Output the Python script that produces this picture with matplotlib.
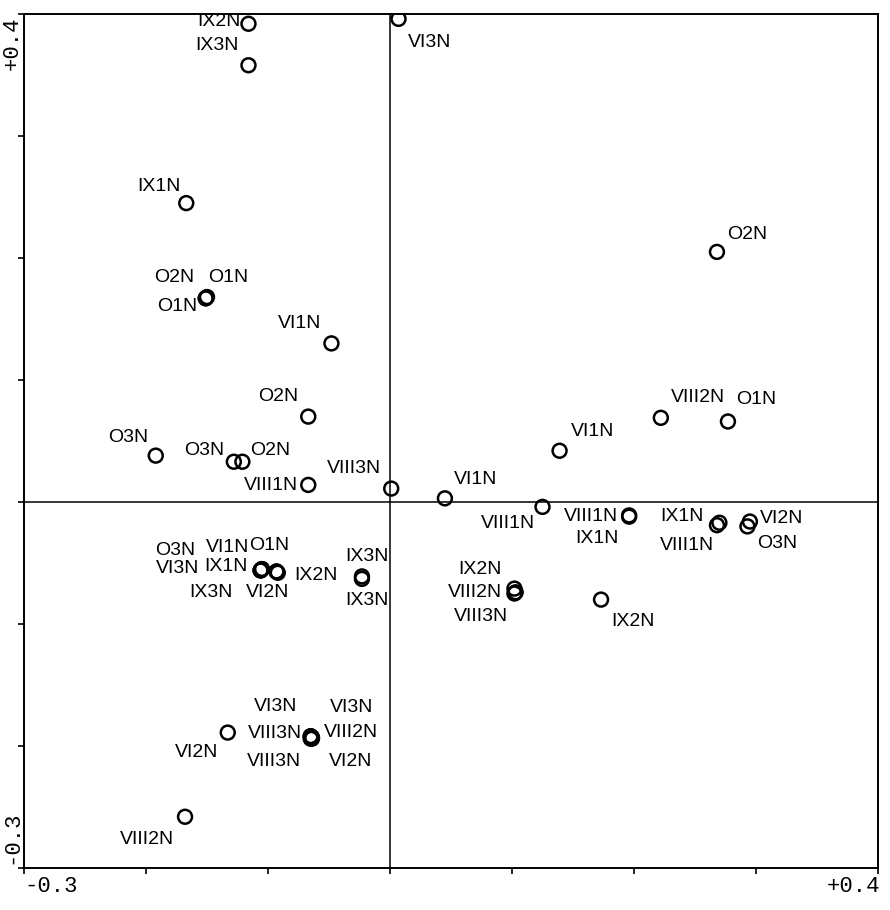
import matplotlib
matplotlib.use("Agg")
import matplotlib.pyplot as plt

# ordination scores (axis 1, axis 2) and sample labels
labels = ["IX2N", "IX3N", "VI3N", "IX1N", "O2N", "O2N", "O1N", "O1N",
          "VI1N", "O2N", "O3N", "O3N", "O2N", "VIII1N", "VIII3N", "VI1N",
          "VI1N", "VIII2N", "O1N", "VIII1N", "VIII1N", "IX1N", "IX1N", "VIII1N",
          "VI2N", "O3N", "O3N", "VI1N", "O1N", "VI3N", "IX1N", "IX3N",
          "VI2N", "IX2N", "IX3N", "IX3N", "IX2N", "VIII2N", "VIII3N", "IX2N",
          "VI2N", "VI3N", "VIII3N", "VIII3N", "VI3N", "VIII2N", "VI2N", "VIII2N"]
x = [-0.116, -0.116, 0.007, -0.167, 0.268, -0.151, -0.151, -0.150,
     -0.048, -0.067, -0.192, -0.128, -0.121, -0.067, 0.001, 0.045,
     0.139, 0.222, 0.277, 0.125, 0.196, 0.196, 0.270, 0.268,
     0.295, 0.293, -0.106, -0.105, -0.093, -0.106, -0.105, -0.106,
     -0.093, -0.092, -0.023, -0.023, 0.102, 0.102, 0.103, 0.173,
     -0.133, -0.065, -0.064, -0.065, -0.064, -0.065, -0.064, -0.168]
y = [0.392, 0.358, 0.396, 0.245, 0.205, 0.167, 0.167, 0.168,
     0.130, 0.070, 0.038, 0.033, 0.033, 0.014, 0.011, 0.003,
     0.042, 0.069, 0.066, -0.004, -0.011, -0.012, -0.017, -0.019,
     -0.016, -0.020, -0.056, -0.055, -0.057, -0.056, -0.055, -0.056,
     -0.057, -0.058, -0.061, -0.063, -0.071, -0.075, -0.074, -0.080,
     -0.189, -0.192, -0.193, -0.194, -0.193, -0.192, -0.194, -0.258]

# label placement (pixel offsets from the marker, screen y down) and alignment
lab_dx = [-8, -10, 9, -6, 10, -12, 2, -10,
          -10, -10, -8, -10, 8, -10, -10, 9,
          11, 10, 8, -7, -11, -10, -16, -30,
          10, 10, -65, -13, -27, -61, -14, -28,
          -9, 16, 5, 5, -13, -12, -8, 10,
          -9, -13, -10, -10, 18, 13, 17, -11]
lab_dy = [-2, -20, 24, -17, -17, -21, -21, 9,
          -20, -20, -18, -11, -11, 1, -20, -19,
          -19, -20, -22, 17, 1, 22, -6, 20,
          -3, 17, -20, -22, -26, -2, -3, 22,
          21, 3, -20, 22, -19, -1, 24, 22,
          20, -30, -4, 23, -30, -4, 23, 23]
lab_ha = ["right", "right", "left", "right", "left", "right", "left", "right",
          "right", "right", "right", "right", "left", "right", "right", "left",
          "left", "left", "left", "right", "right", "right", "right", "center",
          "left", "left", "right", "right", "left", "right", "right", "right",
          "center", "left", "center", "center", "right", "right", "right", "left",
          "right", "right", "right", "right", "left", "left", "left", "right"]

W, H = 890, 910
fig = plt.figure(figsize=(W / 100, H / 100), dpi=100)
ax = fig.add_axes([24 / W, 1 - 868 / H, 854 / W, 854 / H])
ax.set_xlim(-0.3, 0.4)
ax.set_ylim(-0.3, 0.4)

ax.axvline(0, color="black", lw=1.1, zorder=1)
ax.axhline(0, color="black", lw=1.1, zorder=1)

ax.scatter(x, y, s=100, facecolors="none", edgecolors="black", linewidths=1.8, zorder=3)

for i in range(len(labels)):
    ax.annotate(labels[i], (x[i], y[i]), xytext=(lab_dx[i], -lab_dy[i]),
                textcoords="offset pixels", ha=lab_ha[i], va="center",
                fontsize=14, family="Liberation Sans", color="black")

ax.set_xticks([-0.3, -0.2, -0.1, 0.0, 0.1, 0.2, 0.3, 0.4])
ax.set_yticks([-0.3, -0.2, -0.1, 0.0, 0.1, 0.2, 0.3, 0.4])
ax.set_xticklabels([])
ax.set_yticklabels([])
ax.tick_params(direction="out", length=4, width=1.2, top=False, right=False)
for sp in ax.spines.values():
    sp.set_linewidth(1.4)

mono = dict(family="Liberation Mono", fontsize=16, color="black")
fig.text(24 / W, 1 - 876 / H, "-0.3", ha="left", va="top", **mono)
fig.text(880 / W, 1 - 876 / H, "+0.4", ha="right", va="top", **mono)
fig.text(12 / W, 1 - 16 / H, "+0.4", ha="center", va="top", rotation=90, **mono)
fig.text(12 / W, 1 - 864 / H, "-0.3", ha="center", va="bottom", rotation=90, **mono)

fig.savefig("out.png", dpi=100)
